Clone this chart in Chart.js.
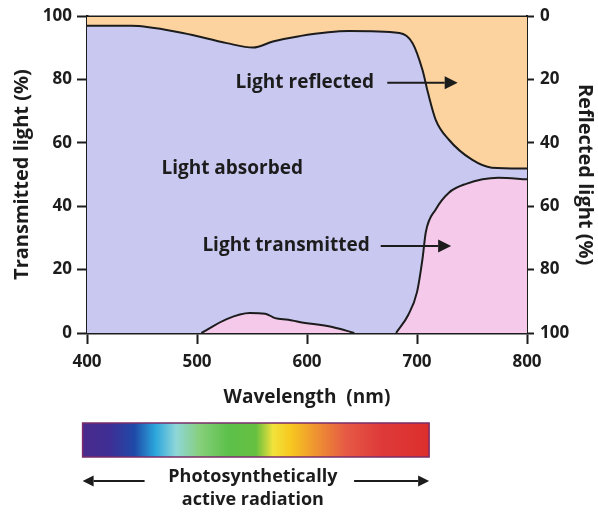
<!DOCTYPE html>
<html>
<head>
<meta charset="utf-8">
<script src="https://cdn.jsdelivr.net/npm/chart.js@4.4.1/dist/chart.umd.min.js"></script>
<style>
  html, body { margin: 0; padding: 0; background: #fff; }
  #wrap { width: 598px; height: 513px; }
</style>
</head>
<body>
<div id="wrap"><canvas id="grafico" width="598" height="513"></canvas></div>
<script>
// Reflected light boundary (reflected %, read on the right axis)
const reflWavelengths = [400, 440, 487, 527, 551, 569, 593, 638, 684, 696, 705, 710, 717, 729, 750, 768, 800];
const reflValues      = [3, 3, 5.3, 8.5, 9.9, 8, 6.3, 4.7, 5.3, 8.5, 17, 24.2, 32.7, 39, 45.3, 47.8, 48.1];

// Transmitted light (%), two humps
const trans1Wavelengths = [504, 527, 548, 562, 571, 583, 593, 623, 643];
const trans1Values      = [0, 4.4, 6.3, 6.1, 4.7, 4.2, 3.5, 1.9, 0];
const trans2Wavelengths = [681, 692, 700, 705, 708, 717, 729, 744, 774, 800];
const trans2Values      = [0, 5.7, 12.9, 23.4, 31.8, 39, 44.3, 47, 49, 48.5];

const xTicks = [400, 500, 600, 700, 800];
const yTicks = [0, 20, 40, 60, 80, 100];

// Text labels inside the plot: [text, wavelength, transmitted %]
const etiquetas = [
  ['Light absorbed', 532, 52],
  ['Light reflected', 598, 79],
  ['Light transmitted', 581, 27.5]
];
// Arrows: [from wl, to wl, transmitted %]
const flechas = [
  [673, 737, 79],
  [667, 731, 27.5]
];
// Spectrum band (PAR) wavelength span
const parSpan = [396, 711];

const NEGRO = '#1c1c1c';
const FUENTE = '"Open Sans", Lato, sans-serif';

function puntos(xs, ys) {
  return xs.map((x, i) => ({ x: x, y: ys[i] }));
}

// line with a filled triangle head at (x2, y)
function flecha(ctx, x1, y, x2, h) {
  const dir = x2 > x1 ? 1 : -1;
  ctx.beginPath();
  ctx.moveTo(x1, y);
  ctx.lineTo(x2 - dir * h, y);
  ctx.stroke();
  ctx.beginPath();
  ctx.moveTo(x2, y);
  ctx.lineTo(x2 - dir * h, y - h * 0.5);
  ctx.lineTo(x2 - dir * h, y + h * 0.5);
  ctx.closePath();
  ctx.fill();
}

const extras = {
  id: 'extras',
  afterDatasetsDraw(chart) {
    const ctx = chart.ctx, a = chart.chartArea;
    const sx = chart.scales.x, sy = chart.scales.y;
    ctx.save();
    // top border of plot box
    ctx.strokeStyle = NEGRO;
    ctx.lineWidth = 1.5;
    ctx.beginPath();
    ctx.moveTo(a.left, a.top);
    ctx.lineTo(a.right, a.top);
    ctx.stroke();

    // labels inside the plot
    ctx.fillStyle = NEGRO;
    ctx.font = 'bold 19px ' + FUENTE;
    ctx.textAlign = 'center';
    ctx.textBaseline = 'middle';
    etiquetas.forEach(e => {
      ctx.fillText(e[0], sx.getPixelForValue(e[1]), sy.getPixelForValue(e[2]));
    });
    ctx.lineWidth = 2;
    flechas.forEach(f => {
      flecha(ctx, sx.getPixelForValue(f[0]), sy.getPixelForValue(f[2]), sx.getPixelForValue(f[1]), 13);
    });
    ctx.restore();
  },
  afterDraw(chart) {
    const ctx = chart.ctx;
    const sx = chart.scales.x;
    const x0 = sx.getPixelForValue(parSpan[0]);
    const x1 = sx.getPixelForValue(parSpan[1]);
    const top = 423, alto = 34;
    ctx.save();
    const g = ctx.createLinearGradient(x0, 0, x1, 0);
    g.addColorStop(0.00, '#4a2a8c');
    g.addColorStop(0.08, '#3e2f95');
    g.addColorStop(0.15, '#1f4aa8');
    g.addColorStop(0.21, '#2ba6dc');
    g.addColorStop(0.27, '#8fd6d8');
    g.addColorStop(0.34, '#86cf7a');
    g.addColorStop(0.42, '#5cc04a');
    g.addColorStop(0.50, '#66c040');
    g.addColorStop(0.55, '#f2e23a');
    g.addColorStop(0.60, '#f7c81f');
    g.addColorStop(0.67, '#ef9530');
    g.addColorStop(0.76, '#e65a45');
    g.addColorStop(0.86, '#de3a3a');
    g.addColorStop(1.00, '#dc2f2c');
    ctx.fillStyle = g;
    ctx.fillRect(x0, top, x1 - x0, alto);
    ctx.strokeStyle = '#7a2c6a';
    ctx.lineWidth = 1.5;
    ctx.strokeRect(x0, top, x1 - x0, alto);

    ctx.fillStyle = NEGRO;
    ctx.strokeStyle = NEGRO;
    ctx.font = 'bold 18px ' + FUENTE;
    ctx.textAlign = 'center';
    ctx.textBaseline = 'middle';
    const cx = (x0 + x1) / 2 - 3;
    ctx.fillText('Photosynthetically', cx, 477);
    ctx.fillText('active radiation', cx, 500);
    ctx.lineWidth = 2;
    flecha(ctx, x0 + 62, 481, x0, 11);
    flecha(ctx, x1 - 75, 481, x1, 11);
    ctx.restore();
  }
};

const configuracion = {
  type: 'line',
  data: {
    datasets: [
      {
        label: 'Transmitted 1',
        data: puntos(trans1Wavelengths, trans1Values),
        yAxisID: 'y',
        borderColor: NEGRO, borderWidth: 2,
        backgroundColor: '#f4c9ea',
        fill: 'origin', pointRadius: 0, cubicInterpolationMode: 'monotone'
      },
      {
        label: 'Transmitted 2',
        data: puntos(trans2Wavelengths, trans2Values),
        yAxisID: 'y',
        borderColor: NEGRO, borderWidth: 2,
        backgroundColor: '#f4c9ea',
        fill: 'origin', pointRadius: 0, cubicInterpolationMode: 'monotone'
      },
      {
        label: 'Reflected',
        data: puntos(reflWavelengths, reflValues),
        yAxisID: 'y2',
        borderColor: NEGRO, borderWidth: 2,
        backgroundColor: '#fcd29e',
        fill: 'end', pointRadius: 0, cubicInterpolationMode: 'monotone'
      },
      {
        label: 'Absorbed',
        data: puntos(reflWavelengths, reflValues),
        yAxisID: 'y2',
        borderWidth: 0, borderColor: 'rgba(0,0,0,0)',
        backgroundColor: '#c9c8f0',
        fill: 'start', pointRadius: 0, cubicInterpolationMode: 'monotone'
      }
    ]
  },
  options: {
    responsive: false,
    animation: false,
    layout: { padding: { top: 14, bottom: 100, left: 0, right: 0 } },
    plugins: { legend: { display: false }, tooltip: { enabled: false } },
    scales: {
      x: {
        type: 'linear', min: 400, max: 800,
        afterBuildTicks: s => { s.ticks = xTicks.map(v => ({ value: v })); },
        afterFit: s => { s.height = 80; },
        grid: { drawOnChartArea: false, drawTicks: true, tickLength: 11, tickWidth: 2, tickColor: NEGRO },
        border: { display: true, color: NEGRO, width: 2.5 },
        ticks: { color: NEGRO, font: { family: FUENTE, size: 17, weight: 'bold' }, padding: 8, maxRotation: 0 },
        title: { display: true, text: 'Wavelength  (nm)', color: NEGRO, font: { family: FUENTE, size: 19, weight: 'bold' }, padding: { top: 0, bottom: 4 } }
      },
      y: {
        position: 'left', min: 0, max: 100,
        afterBuildTicks: s => { s.ticks = yTicks.map(v => ({ value: v })); },
        afterFit: s => { s.width = 87; },
        grid: { drawOnChartArea: false, drawTicks: true, tickLength: 10, tickWidth: 2, tickColor: NEGRO },
        border: { display: true, color: NEGRO, width: 2.5 },
        ticks: { color: NEGRO, font: { family: FUENTE, size: 17, weight: 'bold' }, padding: 5 },
        title: { display: true, text: 'Transmitted light (%)', color: NEGRO, font: { family: FUENTE, size: 20, weight: 'bold' }, padding: { top: 10, bottom: 0 } }
      },
      y2: {
        position: 'right', min: 0, max: 100, reverse: true,
        afterBuildTicks: s => { s.ticks = yTicks.map(v => ({ value: v })); },
        afterFit: s => { s.width = 71; },
        grid: { drawOnChartArea: false, drawTicks: true, tickLength: 7, tickWidth: 2, tickColor: NEGRO },
        border: { display: true, color: NEGRO, width: 2 },
        ticks: { color: NEGRO, font: { family: FUENTE, size: 17, weight: 'bold' }, padding: 6 },
        title: { display: true, text: 'Reflected light (%)', color: NEGRO, font: { family: FUENTE, size: 20, weight: 'bold' }, padding: { top: 1, bottom: 0 } }
      }
    }
  },
  plugins: [extras]
};

const contexto = document.getElementById('grafico').getContext('2d');
const miGrafico = new Chart(contexto, configuracion);
</script>
</body>
</html>
